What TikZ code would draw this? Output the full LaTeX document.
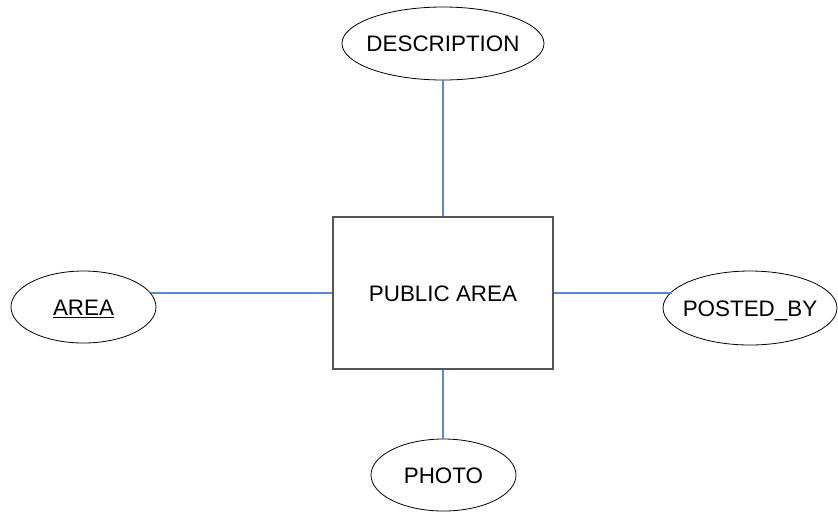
\documentclass[tikz,border=0pt]{standalone}
\usepackage{fontspec}
\setmainfont{Liberation Sans}
\usetikzlibrary{shapes.geometric}
\definecolor{linkblue}{RGB}{90,138,200}
\definecolor{boxgray}{RGB}{85,85,85}
\tikzset{
  attr/.style={draw=black, line width=0.6pt, ellipse, inner sep=0pt,
    font=\fontsize{16.8}{20}\selectfont, text height=12pt, text depth=0pt},
  entity/.style={draw=boxgray, line width=1.1pt, rectangle, inner sep=0pt,
    minimum width={220*0.75pt}, minimum height={152*0.75pt},
    font=\fontsize{16.8}{20}\selectfont, text height=12pt, text depth=0pt},
  link/.style={draw=linkblue, line width=0.8pt}
}
\begin{document}
\begin{tikzpicture}[x=0.75pt,y=-0.75pt]
\useasboundingbox (0,0) rectangle (838,512);
\node[entity] (pa) at (443,293) {PUBLIC AREA};
\node[attr, minimum width={202*0.75pt}, minimum height={73*0.75pt}] (desc) at (443,43.5) {\makebox[0pt]{DESCRIPTION}};
\node[attr, minimum width={145*0.75pt}, minimum height={72*0.75pt}] (area) at (83.5,307) {\makebox[0pt]{\underline{AREA}}};
\node[attr, minimum width={174*0.75pt}, minimum height={74*0.75pt}] (posted) at (750,308) {\makebox[0pt]{POSTED\_BY}};
\node[attr, minimum width={145*0.75pt}, minimum height={72*0.75pt}] (photo) at (443.5,475) {\makebox[0pt]{PHOTO}};
\draw[link] (desc.south -| pa.north) -- (pa.north);
\draw[link] (pa.south) -- (pa.south |- photo.north);
\draw[link] (pa.west) -- (pa.west -| area.12);
\draw[link] (pa.east) -- (pa.east -| posted.168);
\end{tikzpicture}
\end{document}
